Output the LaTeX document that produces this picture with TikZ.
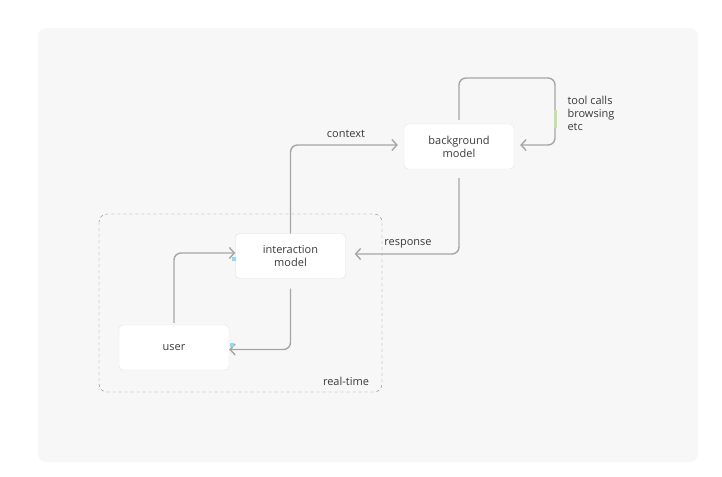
\documentclass[tikz,border=0pt]{standalone}
\usepackage{fontspec}
\setmainfont{Open Sans}
\usetikzlibrary{arrows.meta}
\definecolor{panel}{HTML}{F7F7F7}
\definecolor{wire}{HTML}{A6A6A6}
\definecolor{boxline}{HTML}{E2E2E2}
\definecolor{txt}{HTML}{3A3A3A}
\begin{document}
\begin{tikzpicture}[x=1pt,y=-1pt,font=\fontsize{11}{13}\selectfont,text=txt]
\tikzstyle{box}=[draw=boxline,fill=white,rounded corners=4pt,minimum width=110pt,minimum height=45pt,align=center,inner sep=0pt]
\tikzstyle{wire}=[draw=wire,line width=1.4pt,rounded corners=7pt,-{Straight Barb[length=5pt,width=11pt]}]
\useasboundingbox (0,0) rectangle (722,476);
\fill [panel,rounded corners=8pt] (38,28) rectangle (698,462);
\draw [gray,dashed,rounded corners=8pt] (99,214) rectangle (382,392);
\node [box] (im) at (290.5,256) {interaction\\model};
\node [box] (user) at (174,347.5) {user};
\node [box] (bg) at (459,146.5) {background\\model};
\coordinate (lp) at (555,119);
\coordinate (lptop) at (555,78);
% connectors
\draw [wire] (user.north) ++(0,-2) |- ([yshift=3pt]im.west);
\draw [wire] (im.south) ++(0,10) |- ([yshift=-2pt]user.east);
\draw [wire] (im.north) |- ([xshift=-6pt,yshift=1.5pt]bg.west);
\draw [wire] (bg.south) ++(0,9) |- ([xshift=9pt,yshift=2pt]im.east);
\draw [wire] (bg.north) ++(0,-4) |- (lptop) -- (lp) |- ([xshift=6pt,yshift=1.5pt]bg.east);
\fill [green!40!olive!35] (553.5,110) rectangle (556.5,128);
\fill [cyan!45] (232,257) rectangle (236,261);
\fill [cyan!45] (230,343) rectangle (234,347);
% labels
\node (ctx) at (346,134) {context};
\node (resp) at (408,244) {response};
\node [align=left,anchor=west] (tools) at (564,113) {tool calls\\browsing\\etc};
\node (rt) at (346,381) {real-time};
\end{tikzpicture}
\end{document}
